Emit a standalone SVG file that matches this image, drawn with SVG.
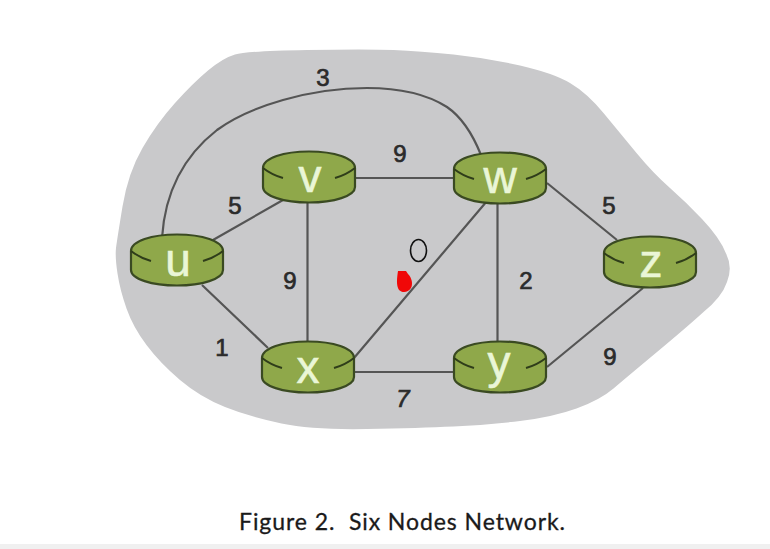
<svg xmlns="http://www.w3.org/2000/svg" width="770" height="549" viewBox="0 0 770 549">
<style>
.l{fill:none;stroke:#555;stroke-width:2.2}
.b{fill:#8fa84a;stroke:#3a4a22;stroke-width:2.2}
.s{fill:none;stroke:#2f3d1a;stroke-width:2}
.n{font-family:"Liberation Sans",Arial,sans-serif;font-size:46px;fill:#eaf6d6;stroke:#eaf6d6;stroke-width:.6;text-anchor:middle}
.w{font-family:"Liberation Sans",Arial,sans-serif;font-size:24px;fill:#2b2b2b;stroke:#2b2b2b;stroke-width:.7;text-anchor:middle}
</style>
<defs>
<g id="r">
<path class="b" d="M-46 -9C-46 -19 -25 -25.5 0 -25.5S46 -19 46 -9V10C46 19 25 25.5 0 25.5S-46 19 -46 10Z"/>
<path class="s" d="M-46 -9Q-37 -2 -26 1M46 -9Q37 -2 26 1"/>
</g>
</defs>
<rect width="770" height="549" fill="#fff"/>
<rect y="544" width="770" height="5" fill="#f0f0f0"/>
<path fill="#c9c9cb" d="M116 248Q117 240 122.500 206.500Q128 173 142.500 148Q157 123 175 103Q193 83 208 70.500Q223 58 235 54.500Q247 51 307 50Q367 49 393.500 50Q420 51 453.500 54.500Q487 58 520 65.500Q553 73 570 83Q587 93 603.500 113Q620 133 636.500 153Q653 173 670 188Q687 203 702 219Q720 238 726 253.500Q733 267 727 282Q722 297 703.500 312Q687 327 657 352Q627 377 613.500 388.500Q600 400 576.500 408.500Q553 417 520 421Q487 425 453.500 426.500Q420 428 366.500 429Q313 430 281.500 423.500Q250 417 225 407Q200 397 180 380Q160 363 146.500 345Q133 327 126.500 308.500Q120 290 117.500 273.500Q115 257 116 248Z"/>
<g id="connectors">
<path class="l" d="M162 238C165 190 185 155 217 130C250 106 310 88 367 88C395 88 425 93 447 107C463 118 473 135 481 155"/>
<path class="l" d="M213 240L283 200M202 285L268 348M307.500 200V343M355 178H454M354 372H454M497.500 200V343M354 358L487 201M547 183L617 240M547 367L643 288"/>
</g>
<g id="u"><use href="#r" x="177" y="260"/><text class="n" x="178" y="276">u</text></g>
<g id="v"><use href="#r" x="309" y="177"/><text class="n" x="310" y="192">v</text></g>
<g id="w"><use href="#r" x="500" y="178"/><text class="n" x="500" y="193">w</text></g>
<g id="x"><use href="#r" x="308" y="367"/><text class="n" x="308" y="383">x</text></g>
<g id="y"><use href="#r" x="500" y="367"/><text class="n" x="499" y="378">y</text></g>
<g id="z"><use href="#r" x="650" y="262"/><text class="n" x="651" y="277">z</text></g>
<g id="labels">
<text class="w" x="323" y="86">3</text>
<text class="w" x="400" y="162">9</text>
<text class="w" x="235" y="214">5</text>
<text class="w" x="609" y="214">5</text>
<text class="w" x="290" y="289">9</text>
<text class="w" x="526" y="289">2</text>
<text class="w" x="222" y="356">1</text>
<text class="w" x="610" y="365">9</text>
<text class="w" x="403" y="407" font-style="italic">7</text>
</g>
<ellipse cx="418.500" cy="250.500" rx="8" ry="11" fill="none" stroke="#111" stroke-width="1.600"/>
<path fill="#f00808" d="M398 271L406 271L408 274C412 278 413 284 411 288C408 293 402 293 399 290C396 285 397 278 398 271Z"/>
<text x="239" y="530" font-family="Lato,'Liberation Sans',sans-serif" font-size="23" fill="#1a1a1a" stroke="#1a1a1a" stroke-width=".3" textLength="326" style="white-space:pre">Figure 2.  Six Nodes Network.</text>
</svg>
